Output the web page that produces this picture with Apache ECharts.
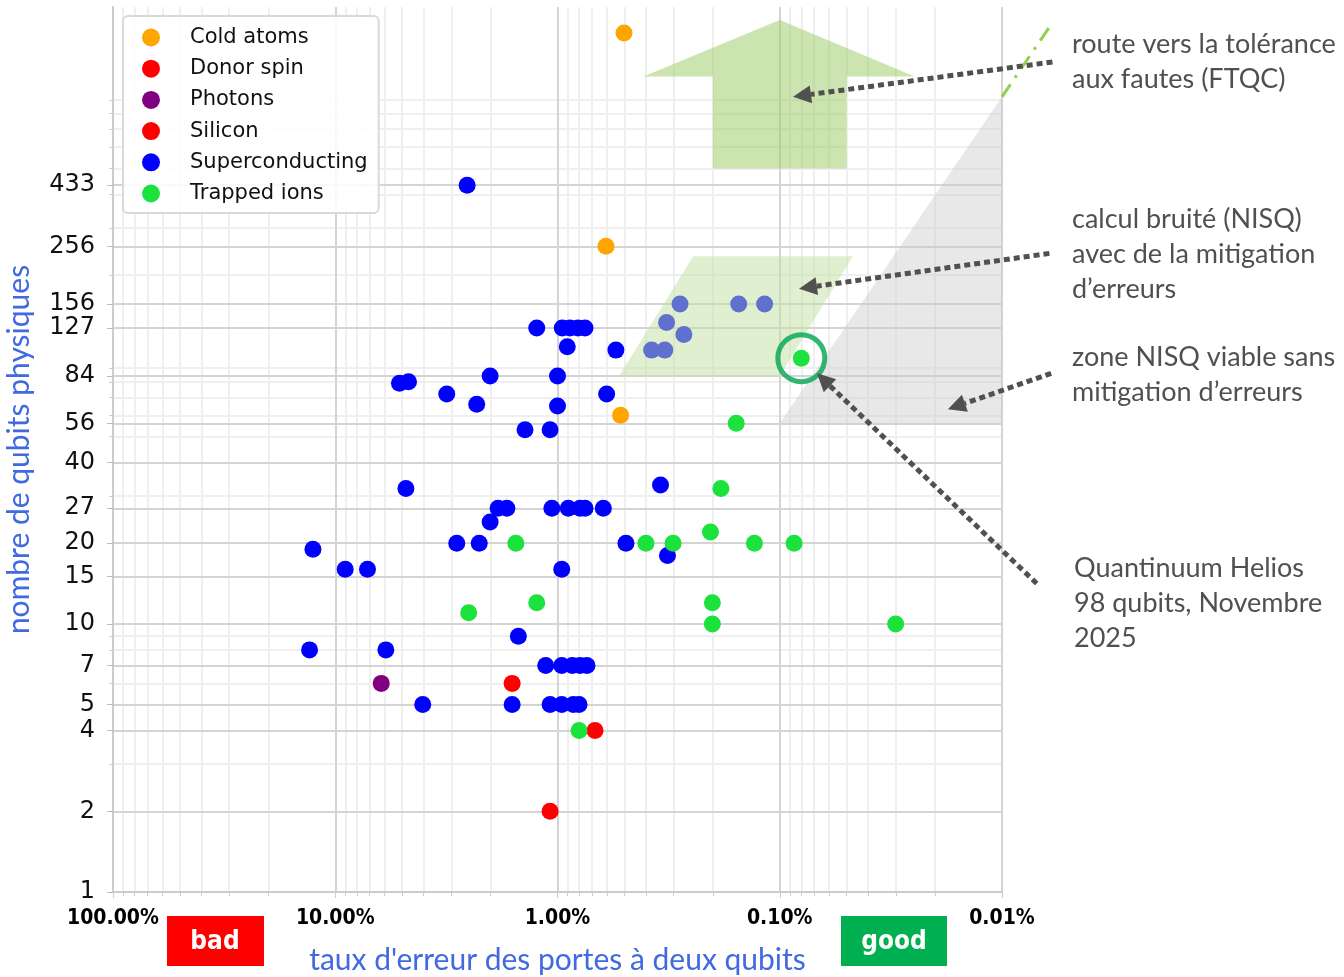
<!DOCTYPE html>
<html>
<head>
<meta charset="utf-8">
<title>Qubits physiques vs taux d'erreur</title>
<script src="https://cdn.jsdelivr.net/npm/echarts@6.0.0/dist/echarts.min.js"></script>
<style>
  html, body { margin: 0; padding: 0; background: #fff; }
  #chart { width: 1344px; height: 977px; }
</style>
</head>
<body>
<div id="chart"></div>
<script>
// [two-qubit gate error in %, number of physical qubits]
const coldAtoms = [[0.502, 1600], [0.605, 256], [0.52, 60]];
const donorSpin = [[0.678, 4]];
const photons = [[6.21, 6]];
const silicon = [[1.60, 6], [1.08, 2]];
const superconducting = [
  [2.55, 433],
  [1.24, 127], [0.952, 127], [0.879, 127], [0.809, 127], [0.752, 127],
  [0.904, 108], [0.546, 105],
  [0.281, 156], [0.153, 156], [0.117, 156], [0.323, 133], [0.270, 120], [0.377, 105], [0.329, 105],
  [5.14, 79], [4.68, 80], [3.15, 72], [2.01, 84], [1.00, 84], [2.31, 66], [1.00, 65], [0.601, 72],
  [1.40, 53], [1.08, 53],
  [4.81, 32], [0.344, 33],
  [1.85, 27], [1.69, 27], [2.01, 24],
  [1.06, 27], [0.894, 27], [0.792, 27], [0.752, 27], [0.622, 27],
  [2.84, 20], [2.25, 20], [0.492, 20], [0.320, 18],
  [12.6, 19], [9.02, 16], [7.16, 16], [0.957, 16],
  [1.50, 9], [13.05, 8], [5.92, 8],
  [1.13, 7], [0.957, 7], [0.858, 7], [0.792, 7], [0.737, 7],
  [4.04, 5], [1.60, 5], [1.08, 5], [0.957, 5], [0.849, 5], [0.80, 5]
];
const helios = [0.08, 98];
const trappedIons = [
  [1.54, 20], [2.51, 11], [1.24, 12], [0.80, 4], [0.40, 20], [0.302, 20],
  [0.205, 22], [0.184, 32], [0.201, 12], [0.201, 10], [0.157, 56],
  [0.130, 20], [0.0862, 20], [0.0301, 10], helios
];

// axis ticks
const xMajorTicks = [0.01, 0.1, 1, 10, 100];
const xMinorTicks = [0.02, 0.03, 0.04, 0.05, 0.06, 0.07, 0.08, 0.09,
  0.2, 0.3, 0.4, 0.5, 0.6, 0.7, 0.8, 0.9,
  2, 3, 4, 5, 6, 7, 8, 9,
  20, 30, 40, 50, 60, 70, 80, 90];
const yMajorTicks = [1, 2, 4, 5, 7, 10, 15, 20, 27, 40, 56, 84, 127, 156, 256, 433];
const yMinorTicks = [2, 3, 4, 5, 6, 7, 8, 9,
  20, 30, 40, 50, 60, 70, 80, 90,
  200, 300, 400, 500, 600, 700, 800, 900];

// annotation shapes, in data units
const ftqcArrow = [[0.41, 1100], [0.1, 1790], [0.0247, 1100], [0.05, 1100], [0.05, 500], [0.2, 500], [0.2, 1100]];
const nisqMitigZone = [[0.245, 235], [0.0469, 235], [0.1, 84], [0.528, 84]];
const nisqViableZone = [[0.1, 56], [0.01, 56], [0.01, 925]];
const ftqcRoute = [[0.01, 925], [0.0059, 1760]];
const pointerArrows = [
  [[0.00593, 1247], [0.0871, 925]],
  [[0.00612, 241], [0.0819, 178]],
  [[0.00601, 86], [0.01752, 63.2]],
  [[0.00698, 14.15], [0.068, 86]]
];

const chart = echarts.init(document.getElementById('chart'));

const blue = '#4169e1';
const gridMajor = '#d4d4d4';
const gridMinor = '#efefef';
const textFont = 'Lato';
const noteFont = '27px Lato';

function polygonSeries(name, pts, fill, z) {
  return {
    type: 'custom',
    name: name,
    z: z,
    silent: true,
    clip: false,
    data: [pts[0]],
    renderItem: (params, api) => ({
      type: 'polygon',
      shape: { points: pts.map(p => api.coord(p)) },
      style: { fill: fill }
    })
  };
}

function scatter(name, data, color) {
  return {
    name: name,
    type: 'scatter',
    data: data,
    symbolSize: 17,
    itemStyle: { color: color, opacity: 1 },
    z: 2
  };
}

const option = {
  animation: false,
  grid: { left: 113, right: 342, top: 7, bottom: 85, outerBoundsMode: 'none', containLabel: false },
  legend: {
    data: ['Cold atoms', 'Donor spin', 'Photons', 'Silicon', 'Superconducting', 'Trapped ions'],
    orient: 'vertical',
    left: 123,
    top: 16,
    icon: 'circle',
    itemWidth: 18,
    itemHeight: 18,
    itemGap: 10.2,
    padding: [11, 11, 9, 19],
    backgroundColor: 'rgba(255,255,255,0.85)',
    borderColor: '#d9d9d9',
    borderWidth: 2,
    borderRadius: 5,
    formatter: name => '{n|' + name + '}',
    textStyle: {
      rich: { n: { fontFamily: 'DejaVu Sans', fontSize: 21, color: '#111', padding: [0, 0, 0, 25], lineHeight: 20 } }
    }
  },
  xAxis: [
    {
      type: 'log', logBase: 10, inverse: true, min: 0.01, max: 100,
      z: 1,
      name: "taux d'erreur des portes à deux qubits",
      nameLocation: 'middle',
      nameGap: 53,
      nameTextStyle: { color: blue, fontSize: 30, fontFamily: textFont },
      axisLine: { show: true, lineStyle: { color: '#cccccc', width: 2 } },
      axisTick: { show: true, length: 6, customValues: xMajorTicks, lineStyle: { color: '#cccccc', width: 1 } },
      axisLabel: {
        customValues: xMajorTicks,
        showMinLabel: true, showMaxLabel: true,
        formatter: v => v.toFixed(2) + '%',
        color: '#000', fontWeight: 'bold', fontFamily: 'DejaVu Sans Condensed', fontSize: 21, margin: 16
      },
      splitLine: { show: true, lineStyle: { color: gridMajor, width: 2 } }
    },
    {
      type: 'log', logBase: 10, inverse: true, min: 0.01, max: 100,
      position: 'bottom',
      z: 0,
      axisLine: { show: false },
      axisTick: { show: true, length: 4, customValues: xMinorTicks, lineStyle: { color: '#cccccc' } },
      axisLabel: { show: false },
      splitLine: { show: true, lineStyle: { color: gridMinor, width: 2 } }
    }
  ],
  yAxis: [
    {
      type: 'log', logBase: 10, min: 1, max: 2000,
      z: 1,
      name: 'nombre de qubits physiques',
      nameLocation: 'middle',
      nameGap: 79,
      nameRotate: 90,
      nameTextStyle: { color: blue, fontSize: 30, fontFamily: textFont },
      axisLine: { show: true, lineStyle: { color: '#cccccc', width: 2 } },
      axisTick: { show: true, length: 6, customValues: yMajorTicks, lineStyle: { color: '#bbbbbb' } },
      axisLabel: {
        customValues: yMajorTicks,
        formatter: v => String(Math.round(v)),
        color: '#111', fontFamily: 'DejaVu Sans', fontSize: 24, margin: 18
      },
      splitLine: { show: true, lineStyle: { color: gridMajor, width: 2 } }
    },
    {
      type: 'log', logBase: 10, min: 1, max: 2000,
      position: 'left',
      z: 0,
      axisLine: { show: false },
      axisTick: { show: true, length: 4, customValues: yMinorTicks, lineStyle: { color: '#cccccc' } },
      axisLabel: { show: false },
      splitLine: { show: true, lineStyle: { color: gridMinor, width: 2 } }
    }
  ],
  series: [
    polygonSeries('zone NISQ viable', nisqViableZone, 'rgba(205,205,205,0.45)', 1),
    scatter('Cold atoms', coldAtoms, '#ffa500'),
    scatter('Donor spin', donorSpin, '#ff0000'),
    scatter('Photons', photons, '#800080'),
    scatter('Silicon', silicon, '#ff0000'),
    scatter('Superconducting', superconducting, '#0000ff'),
    scatter('Trapped ions', trappedIons, '#1be23c'),
    polygonSeries('NISQ mitigation', nisqMitigZone, 'rgba(191,223,159,0.5)', 3),
    polygonSeries('FTQC', ftqcArrow, 'rgba(151,201,97,0.5)', 3),
    {
      name: 'Helios',
      type: 'scatter',
      data: [helios],
      symbolSize: 47,
      silent: true,
      itemStyle: { color: 'rgba(0,0,0,0)', borderColor: '#00a651', borderWidth: 5 },
      z: 4
    },
    {
      type: 'custom',
      name: 'route FTQC',
      z: 4,
      silent: true,
      clip: false,
      data: [ftqcRoute[0]],
      renderItem: (params, api) => {
        const a = api.coord(ftqcRoute[0]);
        const b = api.coord(ftqcRoute[1]);
        return {
          type: 'line',
          shape: { x1: a[0], y1: a[1], x2: b[0], y2: b[1] },
          style: { stroke: '#92d050', lineWidth: 3, lineDash: [15, 8, 3, 8] }
        };
      }
    },
    {
      type: 'custom',
      name: 'pointers',
      z: 5,
      silent: true,
      clip: false,
      data: pointerArrows.map(a => a[1]),
      renderItem: (params, api) => {
        const arrow = pointerArrows[params.dataIndex];
        const p0 = api.coord(arrow[0]);
        const p1 = api.coord(arrow[1]);
        const dx = p1[0] - p0[0], dy = p1[1] - p0[1];
        const len = Math.hypot(dx, dy);
        const ux = dx / len, uy = dy / len;
        const hl = 18, hw = 9;
        const bx = p1[0] - ux * hl, by = p1[1] - uy * hl;
        return {
          type: 'group',
          children: [
            {
              type: 'line',
              shape: { x1: p0[0], y1: p0[1], x2: bx, y2: by },
              style: { stroke: '#505050', lineWidth: 5, lineDash: [6, 4] }
            },
            {
              type: 'polygon',
              shape: { points: [p1, [bx - uy * hw, by + ux * hw], [bx + uy * hw, by - ux * hw]] },
              style: { fill: '#505050' }
            }
          ]
        };
      }
    }
  ],
  graphic: [
    {
      type: 'text', left: 1072, top: 27, z: 10,
      style: { text: 'route vers la tolérance\naux fautes (FTQC)', font: noteFont, fill: '#505050', lineHeight: 35 }
    },
    {
      type: 'text', left: 1072, top: 202, z: 10,
      style: { text: 'calcul bruité (NISQ)\navec de la mitigation\nd’erreurs', font: noteFont, fill: '#505050', lineHeight: 35 }
    },
    {
      type: 'text', left: 1072, top: 340, z: 10,
      style: { text: 'zone NISQ viable sans\nmitigation d’erreurs', font: noteFont, fill: '#505050', lineHeight: 35 }
    },
    {
      type: 'text', left: 1074, top: 551, z: 10,
      style: { text: 'Quantinuum Helios\n98 qubits, Novembre\n2025', font: noteFont, fill: '#505050', lineHeight: 35 }
    },
    {
      type: 'group', left: 167, top: 916, z: 10,
      children: [
        { type: 'rect', shape: { x: 0, y: 0, width: 97, height: 50 }, style: { fill: '#ff0000' } },
        { type: 'text', x: 48, y: 26, style: { text: 'bad', fill: '#fff', font: 'bold 26px "DejaVu Sans Condensed"', textAlign: 'center', textVerticalAlign: 'middle' } }
      ]
    },
    {
      type: 'group', left: 841, top: 916, z: 10,
      children: [
        { type: 'rect', shape: { x: 0, y: 0, width: 106, height: 50 }, style: { fill: '#00b050' } },
        { type: 'text', x: 53, y: 26, style: { text: 'good', fill: '#fff', font: 'bold 26px "DejaVu Sans Condensed"', textAlign: 'center', textVerticalAlign: 'middle' } }
      ]
    }
  ]
};

chart.setOption(option);
window.addEventListener('resize', () => chart.resize());
</script>
</body>
</html>
